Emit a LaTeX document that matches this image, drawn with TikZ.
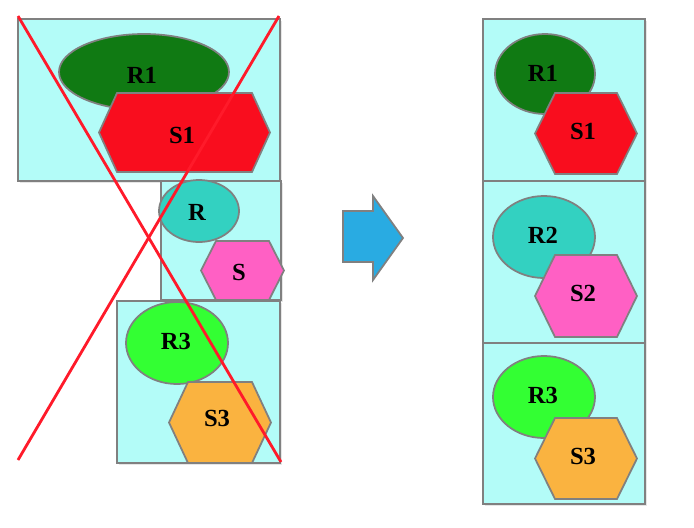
\documentclass[tikz,border=0pt]{standalone}
\usepackage{fontspec}
\setmainfont{Liberation Serif}
\usepackage{tikz}
\usepackage{xcolor}
\usetikzlibrary{shadows}
\definecolor{boxcyan}{HTML}{B3FCF8}
\definecolor{edgegray}{HTML}{808080}
\definecolor{rone}{HTML}{107A13}
\definecolor{sone}{HTML}{F90D1E}
\definecolor{rtwo}{HTML}{33D1C1}
\definecolor{stwo}{HTML}{FF60C4}
\definecolor{rthree}{HTML}{33FF33}
\definecolor{sthree}{HTML}{FAB340}
\definecolor{arrowblue}{HTML}{29ABE2}
\definecolor{crossred}{HTML}{FF1A2A}
% hexagon: centre x, centre y, half width, half height, inset, fill
\newcommand{\hexa}[6]{%
  \filldraw[shape line,fill=#6] ({#1-#3},#2) -- ({#1-#3+#5},{#2-#4}) -- ({#1+#3-#5},{#2-#4})
    -- ({#1+#3},#2) -- ({#1+#3-#5},{#2+#4}) -- ({#1-#3+#5},{#2+#4}) -- cycle;}
\tikzset{
  shape line/.style={draw=edgegray,line width=1pt},
  part box/.style={shape line,fill=boxcyan,drop shadow={opacity=0.2,shadow xshift=1pt,shadow yshift=-1pt}},
  lbl/.style={font=\fontsize{14}{16}\selectfont\bfseries,text=black,inner sep=0pt}
}

\begin{document}
\begin{tikzpicture}[x=0.02cm,y=-0.02cm]
            \useasboundingbox (0,0) rectangle (694,528);
            \begin{scope}
                \filldraw[part box] (18,19) rectangle (280,181);
                \filldraw[part box] (161,181) rectangle (281,300);
                \filldraw[part box] (117,301) rectangle (280,463);
                \filldraw[shape line,fill=rone] (144,72) ellipse [x radius=85,y radius=38];
                \hexa{184.5}{132.5}{85.5}{39.5}{18}{sone}
                \filldraw[shape line,fill=rtwo] (199,211) ellipse [x radius=40,y radius=31];
                \hexa{242.5}{270.5}{41.5}{29.5}{15}{stwo}
                \filldraw[shape line,fill=rthree] (177,343) ellipse [x radius=51,y radius=41];
                \hexa{220}{422.5}{51}{40.5}{19}{sthree}
                \node[lbl] (lr1) at (142,75) {R1};
                \node[lbl] (ls1) at (182,135) {S1};
                \node[lbl] (lr) at (197,212) {R};
                \node[lbl] (ls) at (239,272) {S};
                \node[lbl] (lr3) at (176,341) {R3};
                \node[lbl] (ls3) at (217,418) {S3};
                \draw[crossred,line width=1.6pt] (18,16) -- (281,462);
                \draw[crossred,line width=1.6pt] (279,16) -- (18,460);
            \end{scope}
            \filldraw[shape line,fill=arrowblue] (343,211) -- (373,211) -- (373,196) -- (403,238)
                -- (373,280) -- (373,262) -- (343,262) -- cycle;
            \begin{scope}
                \filldraw[part box] (483,19) rectangle (645,181);
                \filldraw[part box] (483,181) rectangle (645,343);
                \filldraw[part box] (483,343) rectangle (645,504);
                \filldraw[shape line,fill=rone] (545,74) ellipse [x radius=50,y radius=40];
                \hexa{586}{133.5}{51}{40.5}{20}{sone}
                \filldraw[shape line,fill=rtwo] (544,237) ellipse [x radius=51,y radius=41];
                \hexa{586}{296}{51}{41}{20}{stwo}
                \filldraw[shape line,fill=rthree] (544,397) ellipse [x radius=51,y radius=41];
                \hexa{586}{458.5}{51}{40.5}{20}{sthree}
                \node[lbl] (rr1) at (543,73) {R1};
                \node[lbl] (rs1) at (583,131) {S1};
                \node[lbl] (rr2) at (543,235) {R2};
                \node[lbl] (rs2) at (583,293) {S2};
                \node[lbl] (rr3) at (543,395) {R3};
                \node[lbl] (rs3) at (583,456) {S3};
            \end{scope}
        \end{tikzpicture}
\end{document}
